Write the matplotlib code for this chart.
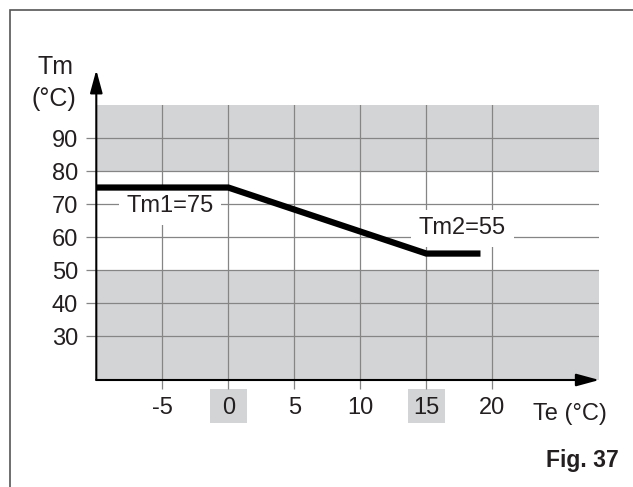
import matplotlib
matplotlib.use("Agg")
import matplotlib.pyplot as plt
import matplotlib.transforms as mtransforms
from matplotlib.patches import Rectangle

plt.rcParams["font.family"] = ["Liberation Sans", "DejaVu Sans"]

# curve Tm = f(Te)
te_points = [-10, 0, 15, 19.1]
tm_points = [75, 75, 55, 55]

x_ticks = [-5, 0, 5, 10, 15, 20]
y_ticks = [30, 40, 50, 60, 70, 80, 90]
highlight_ticks = [0, 15]
gray_bands = [(80, 100), (0, 50)]

tm1_label = "Tm1=75"
tm2_label = "Tm2=55"

W, H = 633, 487
fig = plt.figure(figsize=(W / 100, H / 100), dpi=100)
ax = fig.add_axes([96.3 / W, (H - 380) / H, 503 / W, 275 / H])
ax.set_xlim(-10, 28.1)
ax.set_ylim(16.7, 100)

text_col = "#231f20"
grid_col = "#858585"
band_col = "#d3d4d6"

for lo, hi in gray_bands:
    ax.axhspan(lo, hi, color=band_col, lw=0, zorder=0)

ax.set_xticks(x_ticks)
ax.set_yticks(y_ticks)
ax.set_xticklabels([str(t) for t in x_ticks])
ax.set_yticklabels([str(t) for t in y_ticks])
ax.grid(True, color=grid_col, lw=0.9, zorder=1)
ax.set_axisbelow(True)
ax.tick_params(axis="x", direction="out", length=6.5, width=0.9, color=grid_col,
               pad=5.5, labelsize=17, labelcolor=text_col)
ax.tick_params(axis="y", direction="out", length=7.2, width=0.9, color=grid_col,
               pad=6, labelsize=17, labelcolor=text_col)
for s in ax.spines.values():
    s.set_visible(False)

# highlighted tick boxes
trans = mtransforms.blended_transform_factory(ax.transData, fig.transFigure)
for t in highlight_ticks:
    ax.add_patch(Rectangle((t - 1.4, (H - 422.7) / H), 2.8, 33.7 / H,
                           transform=trans, facecolor=band_col, edgecolor="none",
                           clip_on=False, zorder=0))

ax.plot(te_points, tm_points, color="black", lw=4.5, solid_capstyle="butt",
        solid_joinstyle="miter", zorder=4)

box = dict(boxstyle="square,pad=0.32", facecolor="white", edgecolor="none")
ax.text(-4.44, 69.4, tm1_label, fontsize=17, color=text_col, ha="center",
        va="center", bbox=box, zorder=3)
ax.text(17.74, 62.7, tm2_label, fontsize=17, color=text_col, ha="center",
        va="center", bbox=box, zorder=3)

# axis arrows
arrow = dict(arrowstyle="-|>,head_length=1.4,head_width=0.38", color="black",
             lw=1.5, mutation_scale=10, shrinkA=0, shrinkB=0)
ax.annotate("", xy=(0, 1 + 35 / 275), xytext=(0, 0), xycoords="axes fraction",
            arrowprops=arrow, annotation_clip=False, zorder=5)
ax.annotate("", xy=(1.0, 0), xytext=(0, 0), xycoords="axes fraction",
            arrowprops=arrow, annotation_clip=False, zorder=5)

fig.text(56 / W, 1 - 67 / H, "Tm", fontsize=18, color=text_col, ha="center", va="center")
fig.text(54 / W, 1 - 99 / H, "(°C)", fontsize=18, color=text_col, ha="center", va="center")
fig.text(570 / W, 1 - 414 / H, "Te (°C)", fontsize=17, color=text_col, ha="center", va="center")
fig.text(619 / W, 1 - 460 / H, "Fig. 37", fontsize=16.5, fontweight="bold",
         color=text_col, ha="right", va="center")

# outer frame
fig.patches.append(Rectangle((9.5 / W, -0.1), 1.2, 1.1 - 10 / H, transform=fig.transFigure,
                             fill=False, edgecolor="#555555", lw=1.2))

fig.savefig("out.png", dpi=100)
